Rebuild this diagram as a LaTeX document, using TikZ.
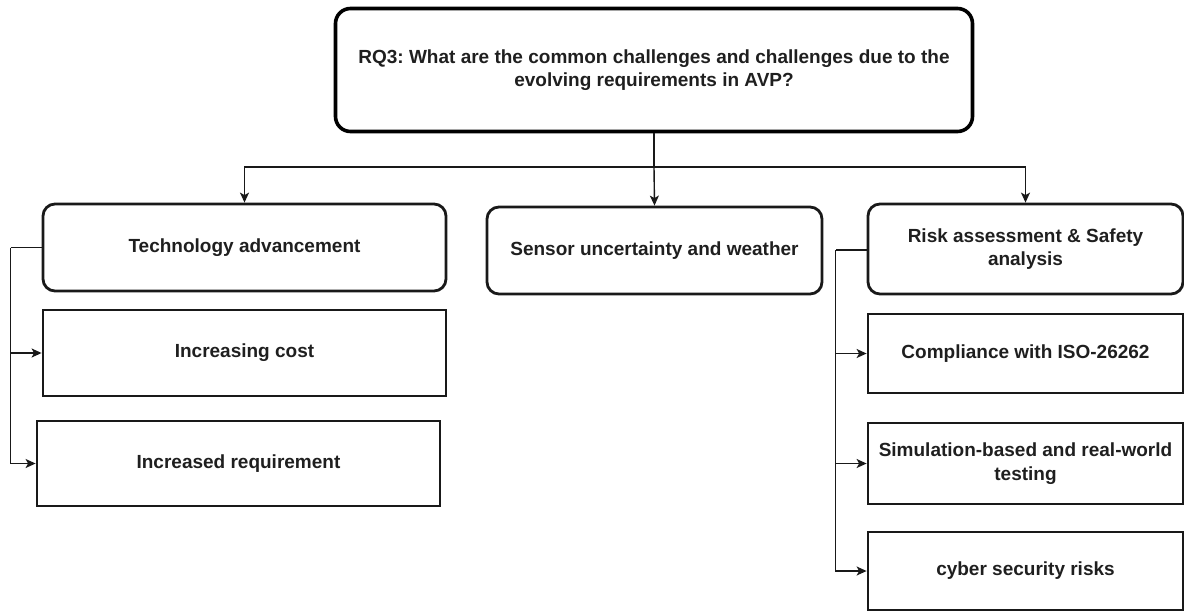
\documentclass[tikz,border=0pt]{standalone}
\usepackage{fontspec}
\setmainfont{Liberation Sans}
\usetikzlibrary{arrows.meta}
\frenchspacing

\begin{document}
\begin{tikzpicture}[x=1pt,y=-1pt,
  every node/.style={font=\fontsize{19}{23.5}\selectfont\bfseries, text=black!88, align=center, inner sep=0pt},
  roundbox/.style={draw=black!90, line width=2.8pt, rounded corners=12pt, minimum width=#1},
  rootbox/.style={draw=black, line width=3.6pt, rounded corners=15pt, minimum width=637pt, minimum height=123pt},
  leafbox/.style={draw=black!90, line width=2.8pt, minimum width=#1},
  link/.style={draw=black!90, line width=1.4pt},
  arr/.style={link, -{Stealth[length=10pt,width=9pt,inset=2.5pt]}}
]
\useasboundingbox (0,0) rectangle (1184,613);

% root question
\node[rootbox] (root) at (654,70)
  {RQ3: What are the common challenges and challenges due to the\\evolving requirements in AVP?};

% first level
\node[roundbox=403pt, minimum height=87pt] (tech) at (244.5,247.5) {Technology advancement};
\node[roundbox=335pt, minimum height=87pt] (sensor) at (654.5,250.5) {Sensor uncertainty and weather};
\node[roundbox=315pt, minimum height=90pt] (risk) at (1025.5,249) {Risk assessment \& Safety\\analysis};

% children of technology advancement
\node[leafbox=403pt, minimum height=86pt] (cost) at (244.5,353) {Increasing cost};
\node[leafbox=403pt, minimum height=85pt] (req) at (238.5,463.5) {Increased requirement};

% children of risk assessment
\node[leafbox=315pt, minimum height=79pt] (iso) at (1025.5,353.5) {Compliance with ISO-26262};
\node[leafbox=315pt, minimum height=81pt] (sim) at (1025.5,463.5) {Simulation-based and real-world\\testing};
\node[leafbox=315pt, minimum height=78pt] (cyber) at (1025.5,571) {cyber security risks};

% root to first level
\coordinate (hub) at (654,167);
\draw[link] (root.south) -- (hub);
\draw[arr] (hub) -| (tech.north);
\draw[arr] (hub) -| (risk.north);
\draw[arr] (hub) -- (sensor.north);

% technology advancement branch
\draw[link] (tech.west) -- ++(-31,0) coordinate (lf);
\draw[arr] (lf) |- (cost.west);
\draw[arr] (lf) |- (req.west);

% risk assessment branch
\draw[link] ([yshift=-1pt]risk.west) -- ++(-31,0) coordinate (rf);
\draw[arr] (rf) |- (iso.west);
\draw[arr] (rf) |- (sim.west);
\draw[arr] (rf) |- (cyber.west);
\end{tikzpicture}
\end{document}
